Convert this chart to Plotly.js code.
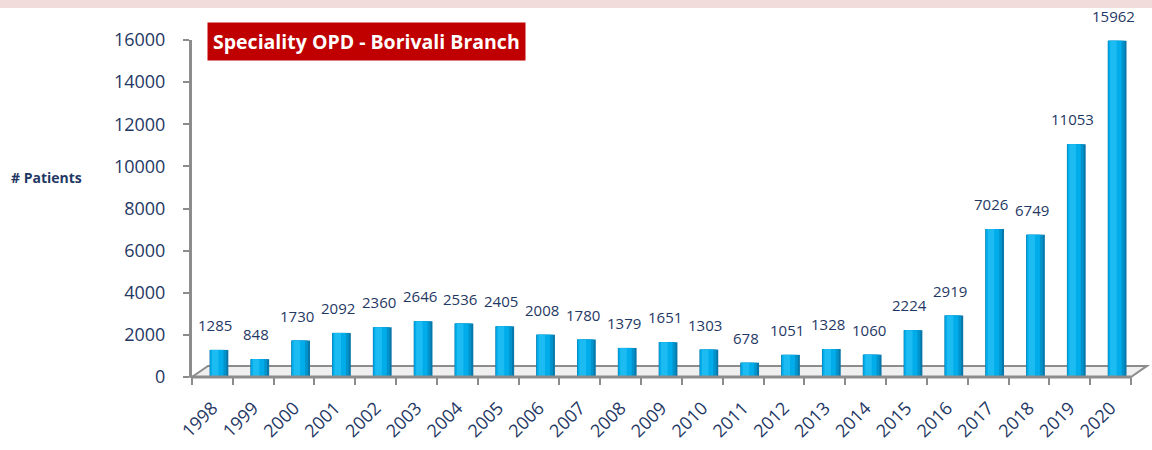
<!DOCTYPE html>
<html>
<head>
<meta charset="utf-8">
<script src="https://cdn.plot.ly/plotly-3.0.1.min.js"></script>
<style>html,body{margin:0;padding:0;background:#fff;}#chart{width:1152px;height:450px;}</style>
</head>
<body>
<div id="chart"></div>
<script>
const years = ['1998','1999','2000','2001','2002','2003','2004','2005','2006','2007','2008','2009','2010','2011','2012','2013','2014','2015','2016','2017','2018','2019','2020'];
const patients = [1285,848,1730,2092,2360,2646,2536,2405,2008,1780,1379,1651,1303,678,1051,1328,1060,2224,2919,7026,6749,11053,15962];
const yTicks = [0,2000,4000,6000,8000,10000,12000,14000,16000];
const chartTitle = 'Speciality OPD - Borivali Branch';
const yLabel = '# Patients';

const idx = years.map((_, i) => i);
const navy = '#1F3864';
const shift = 0.16;
function layer(w, dx, color){
  return {type:'bar', x:idx, y:patients, width:w, offset:-w/2+shift+dx,
    marker:{color:color, line:{width:0}}, hoverinfo:'skip', showlegend:false};
}
const traces = [
  layer(0.46, 0, '#0878aa'),
  layer(0.40, -0.02, '#0093cc'),
  layer(0.32, -0.05, '#00acea'),
  layer(0.16, -0.09, '#1cbcf3')
];

const annotations = idx.map(i => ({x:i, y:patients[i], xref:'x', yref:'y', text:String(patients[i]),
  showarrow:false, yanchor:'middle', yshift:25, xshift:3, font:{family:'Open Sans', size:15, color:navy}}));
annotations.push({xref:'paper', yref:'paper', x:0.016, y:0.995, xanchor:'left', yanchor:'middle',
  text:'<b>'+chartTitle+'</b>', showarrow:false, bgcolor:'#C00000', borderpad:5,
  font:{family:'Open Sans', size:19.5, color:'#ffffff'}});
annotations.push({xref:'paper', yref:'paper', x:-0.195, y:0.593, xanchor:'left', yanchor:'middle',
  text:'<b>'+yLabel+'</b>', showarrow:false, font:{family:'Open Sans', size:14, color:navy}});

const shapes = [
  {type:'rect', xref:'paper', yref:'paper', x0:-0.3, x1:1.1, y0:1.095, y1:1.13, fillcolor:'#F2DCDB', line:{width:0}, layer:'below'},
  {type:'path', xref:'paper', yref:'paper', path:'M 0 0 L 1 0 L 1.017 0.033 L 0.017 0.033 Z', fillcolor:'#efefef', line:{color:'#8c8c8c', width:2}, layer:'below'},
  {type:'line', xref:'paper', yref:'paper', x0:0, x1:1, y0:0, y1:0, line:{color:'#8c8c8c', width:3}}
];

const layout = {
  width:1152, height:450,
  margin:{l:192, r:21, t:40, b:73},
  paper_bgcolor:'#ffffff', plot_bgcolor:'rgba(0,0,0,0)',
  barmode:'overlay',
  xaxis:{type:'linear', range:[-0.5, years.length-0.5], tickmode:'array', tickvals:idx, ticktext:years,
    showgrid:false, zeroline:false, showline:false, ticks:'', tickangle:-45, fixedrange:true, ticklabelstandoff:16,
    minor:{tickmode:'linear', tick0:-0.5, dtick:1, ticks:'outside', ticklen:7, tickwidth:2, tickcolor:'#8c8c8c', showgrid:false},
    tickfont:{family:'Open Sans', size:18, color:navy}},
  yaxis:{range:[0,16000], tickmode:'array', tickvals:yTicks, ticktext:yTicks.map(String), showgrid:false, zeroline:false,
    showline:true, linecolor:'#8c8c8c', linewidth:3,
    ticks:'outside', ticklen:6, tickwidth:2, tickcolor:'#8c8c8c', ticklabelstandoff:14,
    tickfont:{family:'Open Sans', size:18, color:navy}},
  annotations:annotations,
  shapes:shapes,
  showlegend:false
};
Plotly.newPlot('chart', traces, layout, {displayModeBar:false, staticPlot:true});
</script>
</body>
</html>
